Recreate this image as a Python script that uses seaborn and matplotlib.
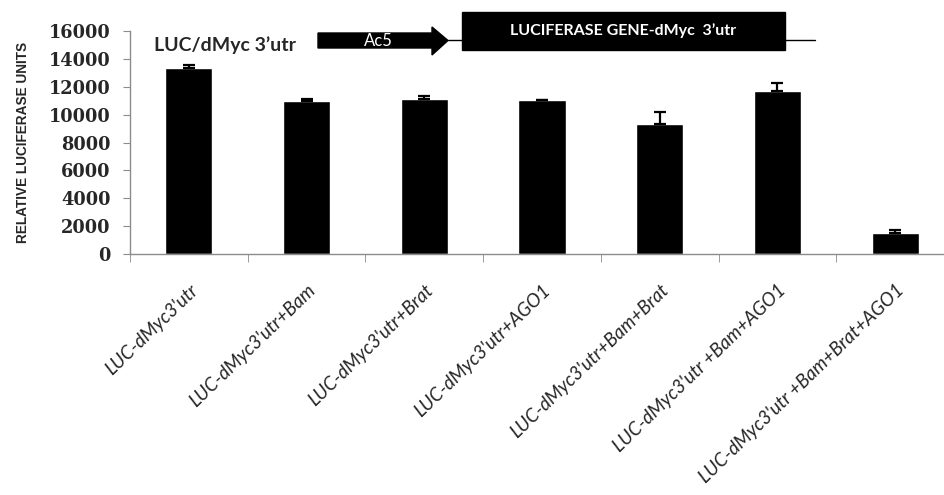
import numpy as np
import pandas as pd
import seaborn as sns
import matplotlib
matplotlib.use('Agg')
import matplotlib.pyplot as plt
from matplotlib.patches import Rectangle, Polygon
from matplotlib.lines import Line2D

''' DATA '''
constructs = [
    "LUC-dMyc3'utr",
    "LUC-dMyc3'utr+Bam",
    "LUC-dMyc3'utr+Brat",
    "LUC-dMyc3'utr+AGO1",
    "LUC-dMyc3'utr+Bam+Brat",
    "LUC-dMyc3'utr +Bam+AGO1",
    "LUC-dMyc3'utr +Bam+Brat+AGO1",
]
luciferase = [13320, 10970, 11140, 11050, 9300, 11710, 1480]
sem = [240, 140, 170, 30, 860, 530, 240]
y_ticks = [0, 2000, 4000, 6000, 8000, 10000, 12000, 14000, 16000]

W, H = 945, 495
GREY = '#8c8c8c'


def fx(px):
    return px / W


def fy(py):
    return 1 - py / H


''' PLOT '''
sns.set_style('ticks')
fig = plt.figure(figsize=(W / 100, H / 100), dpi=100)
ax = fig.add_axes([fx(130), fy(254), (954 - 130) / W, (254 - 31) / H])

df = pd.DataFrame({'construct': constructs, 'rlu': luciferase})
sns.barplot(data=df, x='construct', y='rlu', color='black', width=0.4,
            errorbar=None, saturation=1, ax=ax)
ax.errorbar(np.arange(len(constructs)), luciferase,
            yerr=[np.zeros(len(sem)), sem], fmt='none', ecolor='black',
            elinewidth=1.6, capsize=4.5, capthick=1.6)

ax.set_xlim(-0.5, len(constructs) - 0.5)
ax.set_ylim(0, 16000)
ax.set_yticks(y_ticks)
ax.set_yticklabels([str(v) for v in y_ticks], family=['DejaVu Serif'],
                   fontweight='bold', fontsize=12.8)
ax.tick_params(axis='y', length=5, color=GREY, pad=9)

ax.set_xticks(np.arange(len(constructs)))
ax.set_xticklabels(constructs, rotation=44, ha='right', va='top',
                   rotation_mode='anchor', family=['Lato', 'DejaVu Sans'],
                   style='italic', fontsize=13.5)
ax.set_xticks(np.arange(len(constructs) + 1) - 0.5, minor=True)
ax.tick_params(axis='x', which='major', length=0, pad=20)
ax.tick_params(axis='x', which='minor', length=6, color=GREY)

ax.set_xlabel('')
ax.set_ylabel('RELATIVE LUCIFERASE UNITS',
              family=['Liberation Sans Narrow', 'Liberation Sans'],
              fontweight='bold', fontsize=9.8)
ax.yaxis.set_label_coords(-0.121, 0.5)

sns.despine(ax=ax)
for side in ['left', 'bottom']:
    ax.spines[side].set_color(GREY)
    ax.spines[side].set_linewidth(1)

# construct diagram at the top
fig.text(fx(154), fy(45), "LUC/dMyc 3\u2019utr", family=['Lato', 'DejaVu Sans'],
         fontweight='bold', fontsize=14, ha='left', va='center')
arrow = Polygon([(fx(318), fy(33)), (fx(432), fy(33)), (fx(432), fy(27)),
                 (fx(448), fy(40.5)), (fx(432), fy(55)), (fx(432), fy(48)),
                 (fx(318), fy(48))], closed=True, color='black',
                transform=fig.transFigure)
fig.patches.append(arrow)
fig.text(fx(378), fy(41), 'Ac5', color='white', family=['Lato', 'DejaVu Sans'],
         fontsize=12, ha='center', va='center')
fig.lines.append(Line2D([fx(448), fx(462)], [fy(40), fy(40)], color='black',
                        lw=1, transform=fig.transFigure))
box = Rectangle((fx(462), fy(50)), (785 - 462) / W, (50 - 12) / H,
                color='black', transform=fig.transFigure)
fig.patches.append(box)
fig.text(fx(623), fy(31), "LUCIFERASE GENE-dMyc  3\u2019utr", color='white',
         family=['Lato', 'DejaVu Sans'], fontweight='bold', fontsize=11.5,
         ha='center', va='center')
fig.lines.append(Line2D([fx(785), fx(815)], [fy(40), fy(40)], color='black',
                        lw=1, transform=fig.transFigure))

fig.savefig('out.png', dpi=100)
